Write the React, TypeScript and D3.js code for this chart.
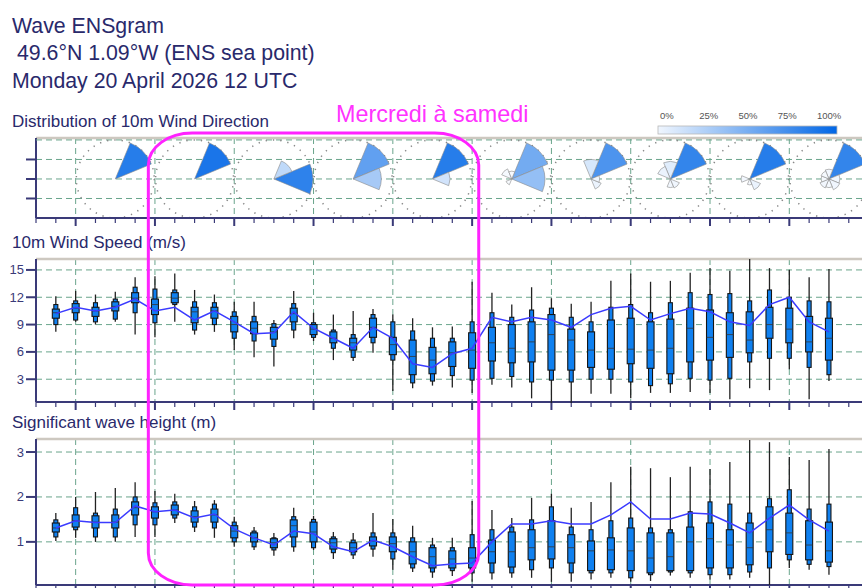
import React from "react";
import * as d3 from "d3";

const W = 862;
const H = 588;
const FONT = "'Liberation Sans', Arial, Helvetica, sans-serif";
const NAVY = "#29296b";
const AXIS = "#3a3a78";
const GRID = "#6aa58c";

// lead times (hours after Mon 20 April 12 UTC)
const leadHours = [
  6, 12, 18, 24, 30, 36, 42, 48, 54, 60, 66, 72, 78, 84, 90, 96, 102, 108, 114, 120,
  126, 132, 138, 144, 150, 156, 162, 168, 174, 180, 186, 192, 198, 204, 210, 216, 222, 228, 234, 240,
];
// 00 UTC of each day
const dayHours = [12, 36, 60, 84, 108, 132, 156, 180, 204, 228];
// 12 UTC of each day, where the wind roses sit
const roseHours = [24, 48, 72, 96, 120, 144, 168, 192, 216, 240];

const windTicks = [3, 6, 9, 12, 15];
const waveTicks = [1, 2, 3];
const legendLabels = ["0%", "25%", "50%", "75%", "100%"];

// 10m wind speed (m/s)
const windMin = [8.2, 9.3, 9.0, 9.3, 7.9, 7.6, 9.3, 7.9, 8.2, 6.2, 5.4, 4.4, 7.5, 7.2, 5.1, 5.0, 5.9, 1.7, 2.0, 2.3, 2.1, 1.5, 2.4, 2.1, 0.9, 0.4, 0.4, 1.4, 1.4, 0.9, 1.5, 1.5, 1.6, 1.5, 0.8, 2.0, 1.8, 4.1, 0.8, 2.8];
const windP10 = [9.0, 9.5, 9.3, 9.6, 10.3, 9.2, 11.2, 8.4, 9.0, 7.5, 7.2, 6.6, 8.4, 7.6, 6.4, 5.4, 7.0, 5.1, 2.6, 2.8, 3.4, 2.9, 3.1, 3.3, 2.7, 2.9, 2.7, 3.0, 3.0, 2.7, 2.3, 2.5, 3.1, 2.9, 3.1, 4.9, 5.3, 5.3, 4.3, 3.5];
const windP25 = [9.7, 10.3, 9.9, 10.5, 11.4, 10.1, 11.4, 9.2, 9.7, 8.2, 8.0, 7.4, 9.3, 7.9, 7.0, 6.2, 7.6, 5.7, 3.5, 3.6, 4.4, 4.2, 5.0, 4.8, 4.9, 4.0, 4.0, 4.3, 4.1, 4.7, 4.2, 3.6, 4.9, 5.1, 5.4, 5.9, 7.5, 7.0, 6.0, 5.1];
const windMed = [10.3, 10.8, 10.5, 11.0, 11.9, 11.2, 11.9, 10.4, 10.5, 9.0, 8.6, 8.2, 10.2, 8.5, 7.5, 7.0, 8.7, 6.8, 5.5, 5.1, 5.9, 6.2, 7.0, 6.4, 7.1, 7.9, 7.3, 6.2, 6.4, 6.3, 6.2, 6.4, 8.6, 7.6, 7.9, 7.3, 9.0, 8.5, 7.1, 7.5];
const windP75 = [10.7, 11.3, 10.9, 11.5, 12.5, 11.8, 12.5, 10.9, 10.9, 9.9, 9.3, 8.7, 10.8, 9.0, 8.2, 7.5, 9.7, 7.6, 7.3, 6.5, 7.1, 8.1, 8.7, 9.0, 9.3, 10.1, 8.5, 8.2, 9.5, 9.7, 9.3, 9.6, 10.8, 10.6, 10.3, 10.4, 10.9, 10.8, 9.9, 9.7];
const windP90 = [11.2, 11.6, 11.4, 11.8, 13.1, 12.9, 12.8, 11.5, 11.4, 10.4, 9.9, 9.1, 11.3, 9.2, 8.4, 7.9, 10.1, 9.3, 8.3, 7.5, 7.5, 9.3, 10.3, 9.8, 10.6, 10.8, 9.8, 9.3, 10.9, 11.2, 10.3, 11.4, 12.5, 12.3, 12.4, 11.6, 12.8, 12.0, 11.6, 11.5];
const windMax = [12.1, 12.7, 12.3, 12.6, 14.2, 14.3, 14.6, 12.8, 12.3, 11.5, 11.5, 9.5, 12.7, 10.3, 10.1, 10.5, 10.7, 10.1, 9.7, 8.7, 8.8, 13.7, 12.5, 11.2, 13.1, 11.9, 11.3, 11.5, 13.8, 14.6, 13.7, 13.8, 14.7, 15.2, 14.9, 16.2, 15.2, 15.0, 14.2, 15.1];
const windHres = [10.2, 10.9, 10.5, 10.9, 11.8, 10.5, 10.9, 9.5, 10.5, 9.3, 8.0, 8.1, 10.4, 8.6, 7.5, 6.4, 8.7, 7.5, 4.7, 4.3, 5.8, 6.4, 9.8, 9.3, 9.8, 9.5, 8.7, 10.1, 10.8, 11.0, 9.5, 10.2, 10.8, 10.4, 9.3, 8.9, 11.2, 12.0, 9.3, 8.2];

// significant wave height (m)
const waveMin = [1.02, 1.09, 1.0, 1.0, 1.11, 1.11, 1.42, 1.22, 1.09, 0.89, 0.82, 0.69, 0.78, 0.82, 0.62, 0.62, 0.67, 0.38, 0.33, 0.2, 0.24, 0.11, 0.16, 0.2, 0.2, 0.11, 0.11, 0.16, 0.2, 0.11, 0.13, 0.25, 0.2, 0.16, 0.16, 0.2, 0.04, 0.42, 0.38, 0.27];
const waveP10 = [1.11, 1.27, 1.11, 1.11, 1.38, 1.38, 1.53, 1.33, 1.31, 1.0, 0.89, 0.82, 0.89, 0.87, 0.76, 0.71, 0.84, 0.62, 0.42, 0.33, 0.36, 0.31, 0.31, 0.31, 0.38, 0.42, 0.31, 0.31, 0.31, 0.2, 0.27, 0.33, 0.31, 0.27, 0.27, 0.33, 0.42, 0.6, 0.5, 0.45];
const waveP25 = [1.22, 1.33, 1.31, 1.31, 1.6, 1.53, 1.6, 1.44, 1.44, 1.09, 1.0, 0.87, 1.11, 1.0, 0.84, 0.78, 0.91, 0.78, 0.51, 0.42, 0.42, 0.42, 0.53, 0.44, 0.6, 0.62, 0.53, 0.36, 0.38, 0.36, 0.31, 0.36, 0.36, 0.42, 0.42, 0.49, 0.78, 0.72, 0.6, 0.55];
const waveMed = [1.31, 1.47, 1.44, 1.44, 1.76, 1.67, 1.71, 1.56, 1.6, 1.24, 1.09, 0.98, 1.36, 1.22, 0.98, 0.87, 1.02, 0.96, 0.78, 0.67, 0.62, 0.64, 0.78, 0.78, 0.87, 0.89, 0.87, 0.8, 0.82, 0.8, 0.64, 0.67, 1.0, 1.07, 0.93, 0.87, 1.27, 1.2, 0.93, 0.8];
const waveP75 = [1.42, 1.6, 1.58, 1.6, 1.89, 1.78, 1.82, 1.69, 1.73, 1.36, 1.2, 1.07, 1.49, 1.44, 1.07, 0.98, 1.11, 1.11, 1.0, 0.87, 0.8, 0.87, 1.04, 1.22, 1.27, 1.47, 1.16, 1.02, 1.09, 1.31, 1.2, 1.2, 1.33, 1.42, 1.27, 1.42, 1.78, 1.64, 1.47, 1.44];
const waveP90 = [1.49, 1.76, 1.64, 1.73, 2.0, 1.87, 1.89, 1.78, 1.84, 1.44, 1.24, 1.09, 1.56, 1.5, 1.11, 1.04, 1.2, 1.2, 1.09, 0.93, 0.87, 1.16, 1.27, 1.33, 1.49, 1.78, 1.33, 1.27, 1.47, 1.53, 1.31, 1.27, 1.67, 1.89, 1.84, 1.64, 1.96, 2.16, 1.73, 1.84];
const waveMax = [1.64, 2.0, 2.11, 2.2, 2.33, 2.13, 2.07, 1.91, 1.93, 1.56, 1.33, 1.2, 1.76, 1.58, 1.22, 1.2, 1.64, 1.51, 1.36, 1.09, 1.09, 1.91, 1.71, 1.53, 1.98, 2.07, 1.76, 1.89, 2.33, 2.67, 2.64, 2.44, 2.67, 2.62, 2.78, 3.27, 3.22, 2.89, 2.82, 3.07];
const waveHres = [1.31, 1.47, 1.43, 1.43, 1.8, 1.67, 1.71, 1.53, 1.62, 1.29, 1.09, 0.93, 1.24, 1.18, 0.89, 0.78, 1.04, 0.89, 0.67, 0.47, 0.51, 0.53, 1.0, 1.4, 1.4, 1.47, 1.4, 1.4, 1.6, 1.89, 1.51, 1.51, 1.64, 1.62, 1.42, 1.2, 1.53, 1.82, 1.49, 1.24];

// wind direction roses: [sector bearing (deg), relative length, probability %]
const rosePetals: [number, number, number][][] = [
  [[45, 1.0, 85]],
  [[45, 1.0, 90]],
  [[90, 1.0, 82], [45, 0.5, 25]],
  [[45, 1.0, 62], [90, 0.72, 35]],
  [[45, 1.0, 85], [90, 0.45, 18]],
  [[45, 1.0, 55], [90, 0.85, 42], [315, 0.28, 4], [225, 0.16, 3], [0, 0.2, 3]],
  [[45, 1.0, 70], [0, 0.5, 16], [135, 0.28, 8], [90, 0.22, 6]],
  [[45, 1.0, 80], [0, 0.45, 12], [315, 0.35, 8], [180, 0.22, 5], [135, 0.25, 6]],
  [[45, 1.0, 85], [270, 0.22, 5], [135, 0.3, 8], [180, 0.15, 4]],
  [[45, 1.0, 80], [0, 0.25, 5], [90, 0.28, 6], [135, 0.3, 6], [180, 0.22, 4], [225, 0.25, 5], [270, 0.2, 4], [315, 0.22, 4]],
];

const annotationText = "Mercredi à samedi";
const annotationHours = [34, 134];

const x = d3.scaleLinear().domain([0, 250]).range([36, 862]);
const probColor = d3.interpolateRgb("#ffffff", "#0066e6");

type Scale = d3.ScaleLinear<number, number>;

function Frame({ y, top, bottom, ticks, labels }: { y: Scale; top: number; bottom: number; ticks: number[]; labels: boolean }) {
  const tickHours = d3.range(0, 250, 6);
  return (
    <g>
      {ticks.map((t) => (
        <line key={"h" + t} x1={36} x2={W} y1={y(t)} y2={y(t)} stroke={GRID} strokeDasharray="6,4" />
      ))}
      {dayHours.map((h) => (
        <line key={"v" + h} x1={x(h)} x2={x(h)} y1={top} y2={bottom} stroke={GRID} strokeDasharray="6,4" />
      ))}
      <line x1={36} x2={W} y1={top} y2={top} stroke="#cdc8c0" strokeWidth={2.5} />
      <line x1={36} x2={W} y1={bottom} y2={bottom} stroke={AXIS} strokeWidth={2} />
      <line x1={36} x2={36} y1={top} y2={bottom} stroke={AXIS} strokeWidth={2} />
      {ticks.map((t) => (
        <line key={"t" + t} x1={26} x2={36} y1={y(t)} y2={y(t)} stroke={AXIS} strokeWidth={2} />
      ))}
      {labels &&
        ticks.map((t) => (
          <text key={"l" + t} x={24} y={y(t) + 4.5} textAnchor="end" fontSize={13} fill={AXIS}>
            {t}
          </text>
        ))}
      {tickHours.map((h) => (
        <line
          key={"b" + h}
          x1={x(h)}
          x2={x(h)}
          y1={bottom}
          y2={bottom + ((h - 12) % 24 === 0 ? 8 : 5)}
          stroke={AXIS}
          strokeWidth={(h - 12) % 24 === 0 ? 2 : 1.2}
        />
      ))}
    </g>
  );
}

function EnsBoxes({ y, mins, p10, p25, med, p75, p90, maxs, hres }: {
  y: Scale; mins: number[]; p10: number[]; p25: number[]; med: number[]; p75: number[]; p90: number[]; maxs: number[]; hres: number[];
}) {
  const line = d3
    .line<number>()
    .x((_, i) => x(leadHours[i]))
    .y((d) => y(d));
  return (
    <g>
      {leadHours.map((h, i) => {
        const cx = x(h);
        return (
          <g key={h}>
            <line x1={cx} x2={cx} y1={y(maxs[i])} y2={y(mins[i])} stroke="#222" strokeWidth={1.3} />
            <rect x={cx - 2} width={4} y={y(p90[i])} height={y(p10[i]) - y(p90[i])} fill="#0f80f0" stroke="#151515" strokeWidth={1.1} />
            <rect x={cx - 3.5} width={7} y={y(p75[i])} height={y(p25[i]) - y(p75[i])} fill="#0f80f0" stroke="#151515" strokeWidth={1.1} />
            <line x1={cx - 3.5} x2={cx + 3.5} y1={y(med[i])} y2={y(med[i])} stroke="#333" strokeWidth={0.8} />
          </g>
        );
      })}
      <path d={line(hres) ?? ""} fill="none" stroke="#3b3bff" strokeWidth={1.5} />
    </g>
  );
}

export default function App() {
  const yDir = d3.scaleLinear().domain([0, 4.1]).range([218, 138]);
  const yWind = d3.scaleLinear().domain([0.5, 16.2]).range([402, 259]);
  const yWave = d3.scaleLinear().domain([0.04, 3.29]).range([585, 439]);
  const rScale = d3.scaleLinear().domain([0, 1]).range([0, 39]);
  const arc = d3.arc<{ outerRadius: number; startAngle: number; endAngle: number }>().innerRadius(0);
  const rad = (deg: number) => (deg * Math.PI) / 180;
  const legendX = d3.scaleLinear().domain([0, 4]).range([660, 817]);

  return (
    <svg
      width={W}
      height={H}
      style={{ position: "absolute", left: 0, top: 0, background: "#fff" }}
      fontFamily={FONT}
    >
      <defs>
        <linearGradient id="probGrad" x1="0" x2="1" y1="0" y2="0">
          <stop offset="0%" stopColor={probColor(0.06)} />
          <stop offset="100%" stopColor={probColor(1)} />
        </linearGradient>
        <clipPath id="dirClip">
          <rect x={37} y={139} width={W - 37} height={78} />
        </clipPath>
      </defs>

      <text x={12} y={33} fontSize={21.3} fill={NAVY}>Wave ENSgram</text>
      <text x={17} y={60} fontSize={21.3} fill={NAVY}>49.6°N 1.09°W (ENS sea point)</text>
      <text x={12} y={88} fontSize={21.3} fill={NAVY}>Monday 20 April 2026 12 UTC</text>

      <text x={12} y={126.5} fontSize={17} fill={NAVY}>Distribution of 10m Wind Direction</text>
      <text x={12} y={247.5} fontSize={17} fill={NAVY}>10m Wind Speed (m/s)</text>
      <text x={12} y={427.5} fontSize={17} fill={NAVY}>Significant wave height (m)</text>

      {/* legend */}
      {legendLabels.map((l, i) => (
        <text key={l} x={legendX(i)} y={119} fontSize={9.5} fill="#555">{l}</text>
      ))}
      <rect x={658} y={126} width={179} height={8} fill="url(#probGrad)" stroke="#b8b8b8" strokeWidth={0.8} />

      {/* wind direction */}
      <Frame y={yDir} top={138} bottom={218} ticks={[1, 2, 3]} labels={false} />
      <line x1={36} x2={W} y1={yDir(4)} y2={yDir(4)} stroke={GRID} strokeDasharray="6,4" />
      <g clipPath="url(#dirClip)">
        {roseHours.map((h, i) => (
          <g key={h} transform={`translate(${x(h)},${yDir(2)})`}>
            <circle r={39} fill="none" stroke="#888" strokeWidth={1.5} strokeDasharray="1.3,6" />
            {rosePetals[i].map(([b, r, p], j) => (
              <path
                key={j}
                d={arc({ outerRadius: rScale(r), startAngle: rad(b - 22.5), endAngle: rad(b + 22.5) }) ?? ""}
                fill={probColor(p / 100)}
                stroke="#8a8a8a"
                strokeWidth={0.6}
              />
            ))}
          </g>
        ))}
      </g>

      {/* wind speed */}
      <Frame y={yWind} top={259} bottom={402} ticks={windTicks} labels={true} />
      <EnsBoxes y={yWind} mins={windMin} p10={windP10} p25={windP25} med={windMed} p75={windP75} p90={windP90} maxs={windMax} hres={windHres} />

      {/* wave height */}
      <Frame y={yWave} top={439} bottom={585} ticks={waveTicks} labels={true} />
      <EnsBoxes y={yWave} mins={waveMin} p10={waveP10} p25={waveP25} med={waveMed} p75={waveP75} p90={waveP90} maxs={waveMax} hres={waveHres} />

      {/* annotation */}
      <text x={336} y={121.5} fontSize={23.4} fill="#ff33ff">{annotationText}</text>
      <rect
        x={x(annotationHours[0])}
        y={133}
        width={x(annotationHours[1]) - x(annotationHours[0])}
        height={452}
        rx={44}
        ry={32}
        fill="none"
        stroke="#ff22ff"
        strokeWidth={3}
      />
    </svg>
  );
}
